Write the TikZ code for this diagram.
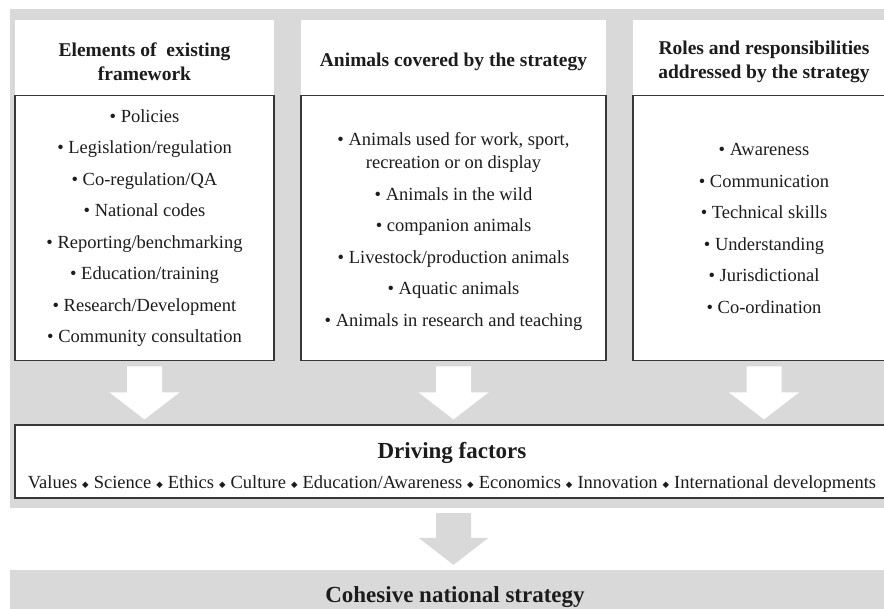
\documentclass[tikz,border=0pt]{standalone}
\usepackage{fontspec}
\setmainfont{Liberation Serif}
\newfontfamily\symfont{DejaVu Sans}
\usetikzlibrary{positioning,calc}

\definecolor{panelgrey}{HTML}{D9D9D9}
\definecolor{boxline}{HTML}{383838}
\definecolor{ink}{HTML}{1C1C1C}

\newcommand{\dsep}{\hspace{5pt}\raisebox{1.2pt}{\symfont\fontsize{8.5}{8.5}\selectfont ◆}\hspace{5pt}}
\newcommand{\lift}{\rule{0pt}{22pt}}
\newcommand{\blockarrow}[3]{%
  \path (#2) ++(0,5) coordinate (atop) (#3) ++(0,-5) coordinate (atip);
  \fill[#1] ($(atop)+(-17.5,0)$) -- ($(atop)+(17.5,0)$) -- ($(atip)+(17.5,-27)$)
    -- ($(atip)+(35,-27)$) -- (atip) -- ($(atip)+(-35,-27)$) -- ($(atip)+(-17.5,-27)$) -- cycle;}

\begin{document}
\begin{tikzpicture}[
    x=1pt, y=-1pt,
    every node/.style={
        text=ink,
        align=center,
        inner sep=0pt
    },
    headbox/.style={
        fill=white,
        minimum height=75pt,
        font=\bfseries\fontsize{19.5}{24}\selectfont
    },
    listbox/.style={
        draw=boxline,
        fill=white,
        line width=1.2pt,
        minimum height=265pt,
        font=\fontsize{18.5}{31.5}\selectfont
    },
    bandbox/.style={
        fill=panelgrey,
        minimum width=890pt
    }
]
\useasboundingbox (0,0) rectangle (884,609);
\clip (0,0) rectangle (884,609);

\node[bandbox, minimum height=499pt] (panel) at (455,258.5) {};

\node[headbox, minimum width=259pt] (elemhead) at (144.5,57.5) {\lift Elements of~ existing\\framework};
\node[headbox, minimum width=305pt] (animhead) at (453.5,57.5) {\lift Animals covered by the strategy};
\node[headbox, minimum width=262pt] (rolehead) at (764,57.5) {\lift Roles and responsibilities\\addressed by the strategy};

\node[listbox, minimum width=259pt, below=0pt of elemhead] (elements) {%
    • Policies\\
    • Legislation/regulation\\
    • Co-regulation/QA\\
    • National codes\\
    • Reporting/benchmarking\\
    • Education/training\\
    • Research/Development\\
    • Community consultation};
\node[listbox, minimum width=305pt, below=0pt of animhead] (animals) {%
    \rule{0pt}{19pt}• Animals used for work, sport,\\[-8pt]
    recreation or on display\\
    • Animals in the wild\\
    • companion animals\\
    • Livestock/production animals\\
    • Aquatic animals\\
    • Animals in research and teaching};
\node[listbox, minimum width=262pt, below=0pt of rolehead] (roles) {%
    • Awareness\\
    • Communication\\
    • Technical skills\\
    • Understanding\\
    • Jurisdictional\\
    • Co-ordination};

\node[draw=boxline, fill=white, line width=1.2pt, minimum width=874pt, minimum height=73pt,
      font=\fontsize{18.5}{30}\selectfont] (factors) at (452,461.5) {%
    \rule{0pt}{28pt}{\bfseries\fontsize{23}{30}\selectfont Driving factors}\\
    Values\dsep Science\dsep Ethics\dsep Culture\dsep Education/Awareness\dsep
    Economics\dsep Innovation\dsep International developments};

\blockarrow{white}{elements.south}{elements.south |- factors.north}
\blockarrow{white}{animals.south}{animals.south |- factors.north}
\blockarrow{white}{roles.south}{roles.south |- factors.north}

\node[bandbox, minimum height=54pt, font=\bfseries\fontsize{23}{28}\selectfont] (goal) at (455,597) {Cohesive national strategy};

\blockarrow{panelgrey}{panel.south -| animals.south}{animals.south |- goal.north}

\end{tikzpicture}
\end{document}
